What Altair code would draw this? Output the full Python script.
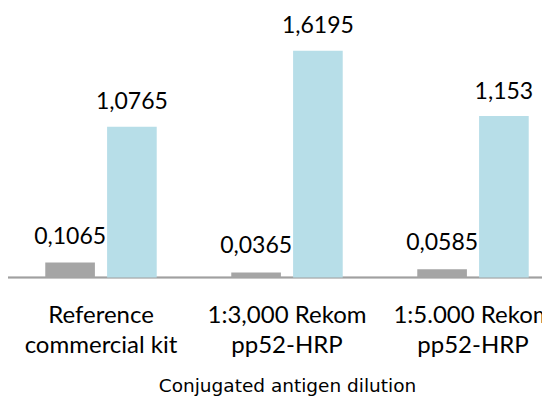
import altair as alt
import pandas as pd

categories = ["Reference\ncommercial kit", "1:3,000 Rekom\npp52-HRP", "1:5.000 Rekom\npp52-HRP"]
series = ["Series 1", "Series 2"]
series1_values = [0.1065, 0.0365, 0.0585]
series2_values = [1.0765, 1.6195, 1.153]
colors = ["#A5A5A5", "#B7DEE8"]

rows = []
for s, vals in zip(series, [series1_values, series2_values]):
    for c, v in zip(categories, vals):
        rows.append({"category": c, "series": s, "value": v,
                     "label": str(v).replace(".", ",")})
df = pd.DataFrame(rows)
cat_df = pd.DataFrame({"category": categories})

x_scale = alt.Scale(domain=categories, range=[0, 558], paddingInner=0, paddingOuter=0)
x_axis = alt.Axis(
    title="Conjugated antigen dilution",
    labels=False, ticks=False, domain=False,
    titleFont="DejaVu Sans", titleFontSize=18.5, titleFontWeight="normal",
    titleColor="#000000", titlePadding=18,
)
x_enc = alt.X("category:N", sort=categories, scale=x_scale, axis=x_axis)
xoff = alt.XOffset("series:N", sort=series,
                   scale=alt.Scale(paddingInner=0.197, paddingOuter=0.603))
PX = 140.0
y_scale = alt.Scale(domain=[-(350 - 269.5) / PX, 269.5 / PX], nice=False, zero=False)
y_enc = alt.Y("value:Q", scale=y_scale, axis=None)

base = alt.Chart(df).encode(x=x_enc, xOffset=xoff, y=y_enc)

bars = base.mark_bar(clip=True).encode(
    y2=alt.datum(0),
    color=alt.Color("series:N", sort=series,
                    scale=alt.Scale(domain=series, range=colors), legend=None),
)
text1 = base.transform_filter(alt.datum.series == series[0]).mark_text(
    font="Lato", fontSize=23, color="#000000", baseline="alphabetic", dy=-19, clip=True
).encode(text="label:N")
text2 = base.transform_filter(alt.datum.series == series[1]).mark_text(
    font="Lato", fontSize=23, color="#000000", baseline="alphabetic", dy=-17.5, clip=True
).encode(text="label:N")

baseline_rule = alt.Chart(cat_df).mark_rule(
    color="#A0A0A0", strokeWidth=1.5, clip=True
).encode(y=alt.Y(datum=0, scale=y_scale, axis=None))

cat_labels = alt.Chart(cat_df).mark_text(
    font="Lato", fontSize=24, color="#000000", baseline="top",
    lineBreak="\n", lineHeight=30, dy=26, clip=True,
).encode(
    x=x_enc,
    y=alt.Y(datum=0, scale=y_scale, axis=None),
    text="category:N",
)

chart = alt.layer(baseline_rule, bars, text1, text2, cat_labels).properties(
    width=534, height=350,
    autosize=alt.AutoSizeParams(type="none"),
    padding={"left": 0, "top": 0, "right": 0, "bottom": 41},
).configure_view(stroke=None)

chart.save("out.html", embed_options={"renderer": "svg", "actions": False})
